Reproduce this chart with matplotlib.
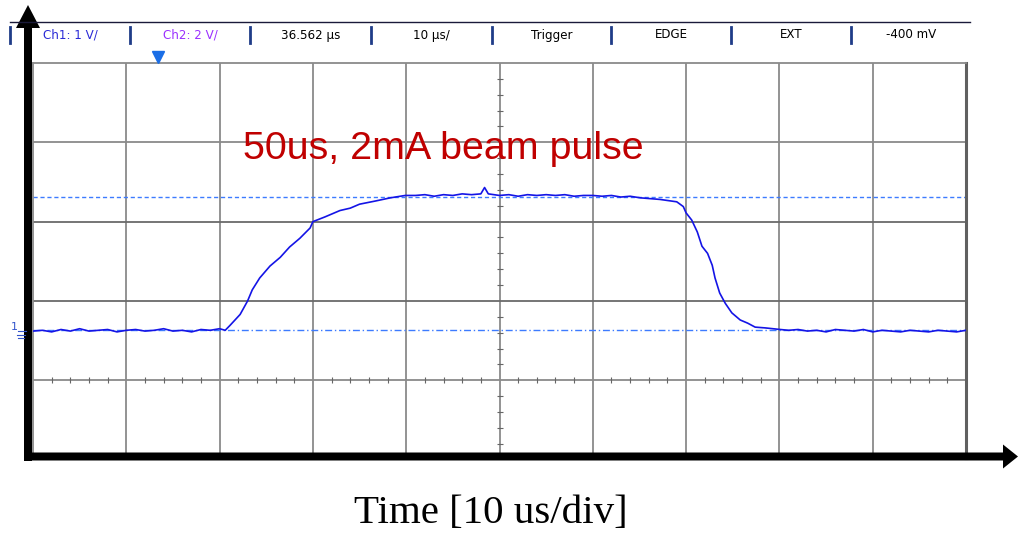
#!/usr/bin/env python3
"""Oscilloscope capture of a 50 us, 2 mA beam pulse."""

import matplotlib
matplotlib.use("Agg")
import matplotlib.pyplot as plt
from matplotlib.patches import FancyArrow
import numpy as np

# ---- data (Ch1, volts above ground, 1 V/div; time in us, 10 us/div) ----
t_us = [0, 1, 2, 3, 4, 5, 6, 7, 8, 9, 10, 11, 12, 13, 14, 15, 16, 17, 18, 19, 20, 20.6,
        21.1, 22.2, 23.0, 23.5, 24.3, 25.4, 26.5, 27.5, 28.6, 29.7, 30.0, 31.3, 32.9,
        34.0, 35.0, 36.7, 38.3, 39.9,
        41, 42, 43, 44, 45, 46, 47, 48, 48.4, 48.8, 50, 51, 52, 53, 54, 55, 56, 57,
        58, 59, 60, 61, 62, 63, 64, 65.1, 67.2,
        69.0, 69.7, 70.0, 70.6, 71.2, 71.7, 72.3, 72.8, 73.1, 73.6, 74.2, 74.9, 75.8,
        76.6, 77.4, 78.5, 80.1,
        81, 82, 83, 84, 85, 86, 87, 88, 89, 90, 91, 92, 93, 94, 95, 96, 97, 98, 99, 100]
ch1_volts = [-0.01, 0.00, -0.02, 0.01, -0.01, 0.02, -0.01, 0.00, 0.01, -0.02, 0.00, 0.01,
             -0.01, 0.00, 0.02, -0.01, 0.00, -0.02, 0.01, 0.00, 0.02, 0.00,
             0.06, 0.20, 0.37, 0.51, 0.66, 0.81, 0.92, 1.05, 1.16, 1.29, 1.37, 1.43, 1.51,
             1.54, 1.59, 1.63, 1.67, 1.70,
             1.70, 1.71, 1.69, 1.71, 1.70, 1.72, 1.71, 1.72, 1.80, 1.72, 1.70, 1.71, 1.69,
             1.71, 1.70, 1.71, 1.70, 1.71, 1.69, 1.70, 1.70, 1.69, 1.70, 1.68, 1.69, 1.67,
             1.65,
             1.62, 1.56, 1.48, 1.39, 1.24, 1.06, 0.97, 0.82, 0.66, 0.47, 0.34, 0.22, 0.13,
             0.09, 0.04, 0.03, 0.01,
             0.00, 0.01, -0.01, 0.00, -0.02, 0.01, 0.00, -0.01, 0.01, -0.02, 0.00, -0.01,
             -0.02, 0.00, -0.01, -0.02, 0.00, -0.01, -0.02, 0.00]

cursor_level = 1.68      # upper dashed cursor, volts
trigger_time = 13.4      # trigger marker, us

header_labels = ["Ch1: 1 V/", "Ch2: 2 V/", "36.562 \u00b5s", "10 \u00b5s/",
                 "Trigger", "EDGE", "EXT", "-400 mV"]
header_colors = ["#2a2ad6", "#9b30ff", "black", "black", "black", "black", "black", "black"]

title = "50us, 2mA beam pulse"
xlabel = "Time [10 us/div]"

# ---- layout ----
W, H = 1018, 533
GND = 0.63               # ground position in divisions above centre line
TRACE = "#1414e6"
CURSOR = "#3d7bff"
GRID = "#8a8a8a"

fig = plt.figure(figsize=(W / 100, H / 100), dpi=100)

# scope screen
ax = fig.add_axes([33 / W, (H - 458) / H, 933 / W, 395 / H])
ax.set_xlim(0, 100)
ax.set_ylim(-0.98, 4)
for x in np.arange(10, 100, 10):
    ax.axvline(x, color=GRID, lw=1.3, zorder=1)
for y in range(0, 4):
    ax.axhline(y, color=GRID if y != 1 and y != 2 else "#6a6a6a", lw=1.3, zorder=1)
# minor ticks on the centre lines
minor_x = [x for x in np.arange(2, 100, 2) if x % 10]
ax.plot(minor_x, [0] * len(minor_x), ls="none", marker="|", ms=4, mew=0.8, color="#666666", zorder=1)
minor_y = [y for y in np.arange(-0.8, 4, 0.2) if abs(y - round(y)) > 1e-6]
ax.plot([50] * len(minor_y), minor_y, ls="none", marker="_", ms=5, mew=0.8, color="#666666", zorder=1)

ax.axhline(cursor_level + GND, color=CURSOR, lw=1, dashes=(3, 2), zorder=2)
ax.axhline(GND, color=CURSOR, lw=1, dashes=(5, 2, 1, 2), zorder=2)
ax.plot(t_us, np.array(ch1_volts) + GND, color=TRACE, lw=1.2, zorder=3)
ax.plot([trigger_time], [4.07], marker="v", ms=8, color="#1a6ee6", clip_on=False, zorder=4)

ax.set_xticks([])
ax.set_yticks([])
for side in ("top", "left", "bottom"):
    ax.spines[side].set_color(GRID)
    ax.spines[side].set_linewidth(1.3)
ax.spines["right"].set_color("#606060")
ax.spines["right"].set_linewidth(2.2)

# overlay in pixel units for header, labels and the drawn axes arrows
ov = fig.add_axes([0, 0, 1, 1], zorder=5)
ov.set_xlim(0, W)
ov.set_ylim(H, 0)
ov.axis("off")
ov.patch.set_alpha(0)

ov.plot([10, 970], [22, 22], color="#1a1a3a", lw=1)
seps = [10, 130, 250, 371, 492, 611, 731, 851, 971]
for sx in seps[:-1]:
    ov.plot([sx, sx], [27, 43], color="#1f3c88", lw=2)
for i, (lab, col) in enumerate(zip(header_labels, header_colors)):
    ov.text((seps[i] + seps[i + 1]) / 2, 35, lab, color=col, fontsize=8.6,
            family="DejaVu Sans", ha="center", va="center")

ov.text(14, 327, "1", color="#3355cc", fontsize=8, ha="center", va="center")
ov.plot([18, 26], [331, 331], color="#3355cc", lw=0.8)
ov.plot([17, 25], [335, 335], color="#3355cc", lw=0.8)
ov.plot([18, 24], [338, 338], color="#3355cc", lw=0.8)

ov.text(243, 149, title, color="#c00000", fontsize=28.4, family="Liberation Sans",
        ha="left", va="center")
ov.text(491, 513, xlabel, color="black", fontsize=29.5, family="Liberation Serif",
        ha="center", va="center")

ov.add_patch(FancyArrow(28, 461, 0, -456, width=8, head_width=24, head_length=23,
                        length_includes_head=True, color="black", lw=0))
ov.add_patch(FancyArrow(24, 456.5, 994, 0, width=8, head_width=24, head_length=15,
                        length_includes_head=True, color="black", lw=0))

fig.savefig("out.png", dpi=100)
